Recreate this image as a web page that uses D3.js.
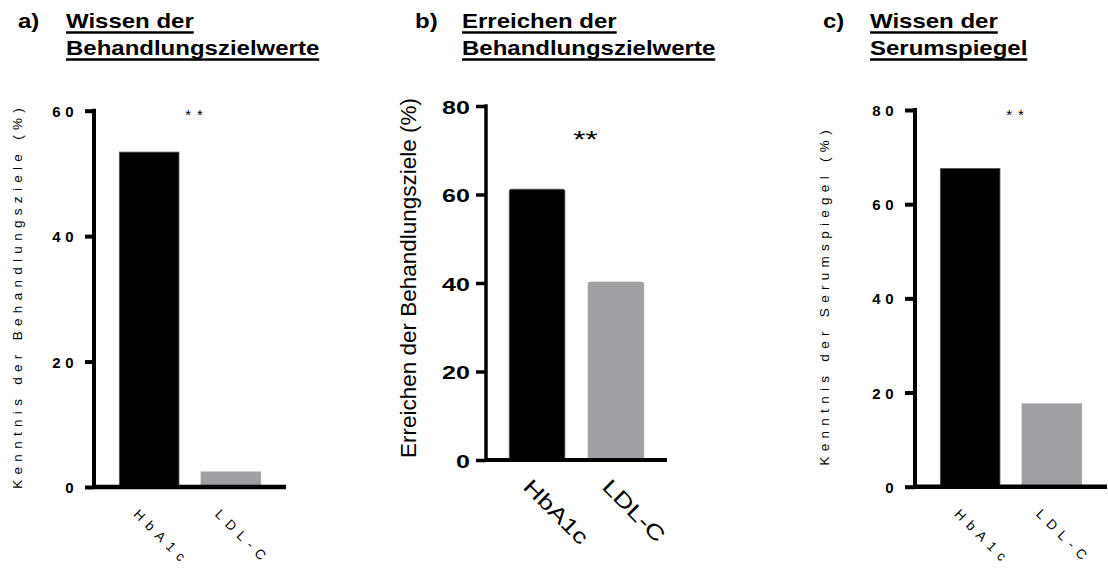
<!DOCTYPE html>
<html>
<head>
<meta charset="utf-8">
<script src="https://cdn.jsdelivr.net/npm/d3@7"></script>
<style>
  html, body { margin: 0; padding: 0; background: #fff; }
  svg { display: block; }
  text { font-family: "Liberation Sans", Arial, Helvetica, sans-serif; }
</style>
</head>
<body>
<svg id="chart" width="1108" height="572"></svg>
<script>
// ---- data ----
const categories = ["HbA1c", "LDL-C"];
const valuesA = [53.4, 2.4];
const valuesB = [61.2, 40.2];
const valuesC = [67.6, 17.6];
const ticksA = [0, 20, 40, 60];
const ticksB = [0, 20, 40, 60, 80];
const ticksC = [0, 20, 40, 60, 80];
const barColors = ["#000000", "#a0a0a4"];
const titleLetters = ["a)", "b)", "c)"];
const titleLines = [
  ["Wissen der", "Behandlungszielwerte"],
  ["Erreichen der", "Behandlungszielwerte"],
  ["Wissen der", "Serumspiegel"]
];
const yLabels = [
  "Kenntnis der Behandlungsziele (%)",
  "Erreichen der Behandlungsziele (%)",
  "Kenntnis der Serumspiegel (%)"
];
const significance = ["**", "**", "**"];

// ---- layout ----
const svg = d3.select("#chart");

const panels = [
  { values: valuesA, ticks: ticksA, max: 60, x0: 94, x1: 286, yTop: 110.7, yBot: 487,
    pi: 0.27, po: 0.31, axisW: 4, tickLen: 9, style: "spaced",
    titleX: 18, textX: 66, titleY: 28, lineGap: 27,
    yLabelX: 17, starY: 120, starDx: 7 },
  { values: valuesB, ticks: ticksB, max: 80, x0: 486, x1: 667, yTop: 106, yBot: 460,
    pi: 0.295, po: 0.295, axisW: 3.5, tickLen: 10, style: "big",
    titleX: 415, textX: 462, titleY: 28, lineGap: 27,
    yLabelX: 408, starY: 148, starDx: 9 },
  { values: valuesC, ticks: ticksC, max: 80, x0: 915, x1: 1107, yTop: 110, yBot: 486.7,
    pi: 0.27, po: 0.31, axisW: 4, tickLen: 10, style: "spaced",
    titleX: 823, textX: 870, titleY: 28, lineGap: 27,
    yLabelX: 824, starY: 120, starDx: 7 }
];

function addText(g, str, x, y, opts) {
  const t = g.append("text")
    .attr("transform", `translate(${x},${y})` + (opts.rotate ? ` rotate(${opts.rotate})` : "") + ` scale(${opts.sx || 1},1)`)
    .attr("font-size", opts.size)
    .attr("font-weight", opts.weight || "normal")
    .attr("text-anchor", opts.anchor || "start")
    .attr("fill", "#000")
    .text(str);
  if (opts.ls) t.attr("letter-spacing", opts.ls);
  return t;
}

panels.forEach((p, i) => {
  const g = svg.append("g");
  const x = d3.scaleBand().domain(categories).range([p.x0, p.x1])
    .paddingInner(p.pi).paddingOuter(p.po);
  const y = d3.scaleLinear().domain([0, p.max]).range([p.yBot, p.yTop]);

  // title
  addText(g, titleLetters[i], p.titleX, p.titleY, { size: 20, weight: "bold", sx: 1.2 });
  titleLines[i].forEach((line, k) => {
    const by = p.titleY + k * p.lineGap;
    const t = addText(g, line, p.textX, by, { size: 20, weight: "bold", sx: 1.2 });
    const w = t.node().getComputedTextLength() * 1.2;
    g.append("line").attr("x1", p.textX).attr("x2", p.textX + w)
      .attr("y1", by + 4.5).attr("y2", by + 4.5)
      .attr("stroke", "#000").attr("stroke-width", 2.6);
  });

  // bars
  g.selectAll("rect.bar").data(p.values).join("rect")
    .attr("class", "bar")
    .attr("x", (d, j) => x(categories[j]))
    .attr("width", x.bandwidth())
    .attr("y", d => y(d))
    .attr("height", d => y(0) - y(d))
    .attr("rx", p.style === "big" ? 2 : 0)
    .attr("fill", (d, j) => barColors[j])
    .attr("stroke", (d, j) => j === 0 ? "#555" : "#a0a0a4")
    .attr("stroke-width", 0.8);

  // y axis
  const yAxis = d3.axisLeft(y).tickValues(p.ticks).tickSize(p.tickLen).tickFormat("");
  const ya = g.append("g").attr("transform", `translate(${p.x0},0)`).call(yAxis);
  ya.select(".domain").remove();
  ya.selectAll(".tick line").attr("stroke", "#000").attr("stroke-width", p.axisW);
  g.append("line").attr("x1", p.x0).attr("x2", p.x0)
    .attr("y1", p.yTop - p.axisW / 2).attr("y2", p.yBot + p.axisW / 2)
    .attr("stroke", "#000").attr("stroke-width", p.axisW);
  // x axis
  g.append("line").attr("x1", p.x0).attr("x2", p.x1)
    .attr("y1", p.yBot).attr("y2", p.yBot)
    .attr("stroke", "#000").attr("stroke-width", p.axisW + 0.5);

  // tick labels
  p.ticks.forEach(tv => {
    if (p.style === "big") {
      addText(g, String(tv), p.x0 - p.tickLen - 6, y(tv) + 7.5,
        { size: 19, weight: "bold", sx: 1.32, anchor: "end" });
    } else {
      addText(g, String(tv), p.x0 - p.tickLen - 7, y(tv) + 6,
        { size: 15, weight: "bold", anchor: "end", ls: 4.5 });
    }
  });

  // category labels (rotated)
  categories.forEach(c => {
    const cx = x(c) + x.bandwidth() / 2;
    if (p.style === "big") {
      addText(g, c, cx - 15, p.yBot + 28, { size: 21, rotate: 45, sx: 1.3 });
    } else {
      addText(g, c, cx - 16.5, p.yBot + 28, { size: 13.5, rotate: 45, ls: 6.5 });
    }
  });

  // y label
  const midY = (p.yTop + p.yBot) / 2;
  if (p.style === "big") {
    addText(g, yLabels[i], p.yLabelX + 8, midY - 5, { size: 22.5, rotate: -90, anchor: "middle" });
  } else {
    addText(g, yLabels[i], p.yLabelX + 5, midY - 3, { size: 13.5, rotate: -90, anchor: "middle", ls: 5.3 });
  }

  // significance
  const sx = (x(categories[0]) + x(categories[1]) + x.bandwidth()) / 2 + p.starDx;
  if (p.style === "big") {
    addText(g, significance[i], sx, p.starY, { size: 24, anchor: "middle", sx: 1.3 });
  } else {
    addText(g, significance[i], sx, p.starY, { size: 15, anchor: "middle", ls: 6 });
  }
});
</script>
</body>
</html>
